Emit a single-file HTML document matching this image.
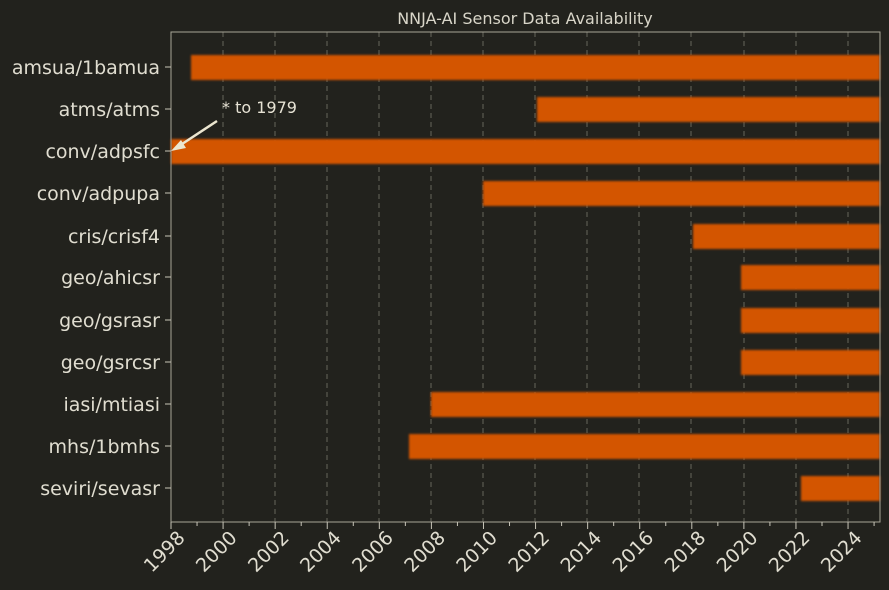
<!DOCTYPE html>
<html><head><style>
html,body{margin:0;padding:0;background:#22221d;}
svg{display:block;font-family:"DejaVu Sans","Liberation Sans",sans-serif;}
</style></head><body>
<svg width="889" height="590" viewBox="0 0 889 590" xmlns="http://www.w3.org/2000/svg">
<rect width="889" height="590" fill="#22221d"/>
<text x="525" y="24" fill="#d8d5c8" font-size="16" text-anchor="middle">NNJA-AI Sensor Data Availability</text>
<g stroke="#66665c" stroke-dasharray="5,4" stroke-width="1">
<line x1="223" y1="32" x2="223" y2="522"/><line x1="275" y1="32" x2="275" y2="522"/><line x1="327" y1="32" x2="327" y2="522"/><line x1="379" y1="32" x2="379" y2="522"/><line x1="431" y1="32" x2="431" y2="522"/><line x1="483" y1="32" x2="483" y2="522"/><line x1="535" y1="32" x2="535" y2="522"/><line x1="587" y1="32" x2="587" y2="522"/><line x1="639" y1="32" x2="639" y2="522"/><line x1="691" y1="32" x2="691" y2="522"/><line x1="744" y1="32" x2="744" y2="522"/><line x1="796" y1="32" x2="796" y2="522"/><line x1="848" y1="32" x2="848" y2="522"/>
</g>
<defs><filter id="b" x="-1%" y="-10%" width="102%" height="120%"><feGaussianBlur stdDeviation="1"/></filter></defs>
<g fill="#d35400" filter="url(#b)">
<rect x="191" y="55" width="689" height="25"/>
<rect x="537" y="97" width="343" height="25"/>
<rect x="171" y="139" width="709" height="25"/>
<rect x="483" y="181" width="397" height="25"/>
<rect x="693" y="224" width="187" height="25"/>
<rect x="741" y="265" width="139" height="25"/>
<rect x="741" y="308" width="139" height="25"/>
<rect x="741" y="350" width="139" height="25"/>
<rect x="431" y="392" width="449" height="25"/>
<rect x="409" y="434" width="471" height="25"/>
<rect x="801" y="476" width="79" height="25"/>
</g>
<rect x="171" y="32" width="709" height="490" fill="none" stroke="#a8a598" stroke-width="1"/>
<line x1="217" y1="121" x2="176" y2="148" stroke="#ece6d0" stroke-width="2.5"/>
<polygon points="171,151 181,140 186,148" fill="#ece6d0"/>
<text x="222" y="113" fill="#e6e2d4" font-size="16">* to 1979</text>
<g stroke="#c8c5b8" stroke-width="1">
<line x1="165" y1="67" x2="171" y2="67"/><line x1="165" y1="109" x2="171" y2="109"/><line x1="165" y1="151" x2="171" y2="151"/><line x1="165" y1="193" x2="171" y2="193"/><line x1="165" y1="236" x2="171" y2="236"/><line x1="165" y1="277" x2="171" y2="277"/><line x1="165" y1="320" x2="171" y2="320"/><line x1="165" y1="362" x2="171" y2="362"/><line x1="165" y1="404" x2="171" y2="404"/><line x1="165" y1="446" x2="171" y2="446"/><line x1="165" y1="488" x2="171" y2="488"/>
</g>
<g fill="#e0ddd0" font-size="19" text-anchor="end">
<text x="160" y="74">amsua/1bamua</text>
<text x="160" y="116">atms/atms</text>
<text x="160" y="158">conv/adpsfc</text>
<text x="160" y="200">conv/adpupa</text>
<text x="160" y="243">cris/crisf4</text>
<text x="160" y="284">geo/ahicsr</text>
<text x="160" y="327">geo/gsrasr</text>
<text x="160" y="369">geo/gsrcsr</text>
<text x="160" y="411">iasi/mtiasi</text>
<text x="160" y="453">mhs/1bmhs</text>
<text x="160" y="495">seviri/sevasr</text>
</g>
<g stroke="#c8c5b8" stroke-width="1" id="tk"></g>
<g fill="#e0ddd0" font-size="19" text-anchor="end" id="xl"></g>
<script>
var tk=document.getElementById('tk'),xl=document.getElementById('xl'),ns='http://www.w3.org/2000/svg';
for(var y=1998;y<=2025;y++){var x=171+(y-1998)*26.04;var l=document.createElementNS(ns,'line');l.setAttribute('x1',x);l.setAttribute('x2',x);l.setAttribute('y1',522);l.setAttribute('y2',(y%2==0)?529:526);tk.appendChild(l);
if(y%2==0){var t=document.createElementNS(ns,'text');t.setAttribute('transform','translate('+(x+15)+',539) rotate(-45)');t.textContent=y;xl.appendChild(t);}}
</script>
</svg>
</body></html>
